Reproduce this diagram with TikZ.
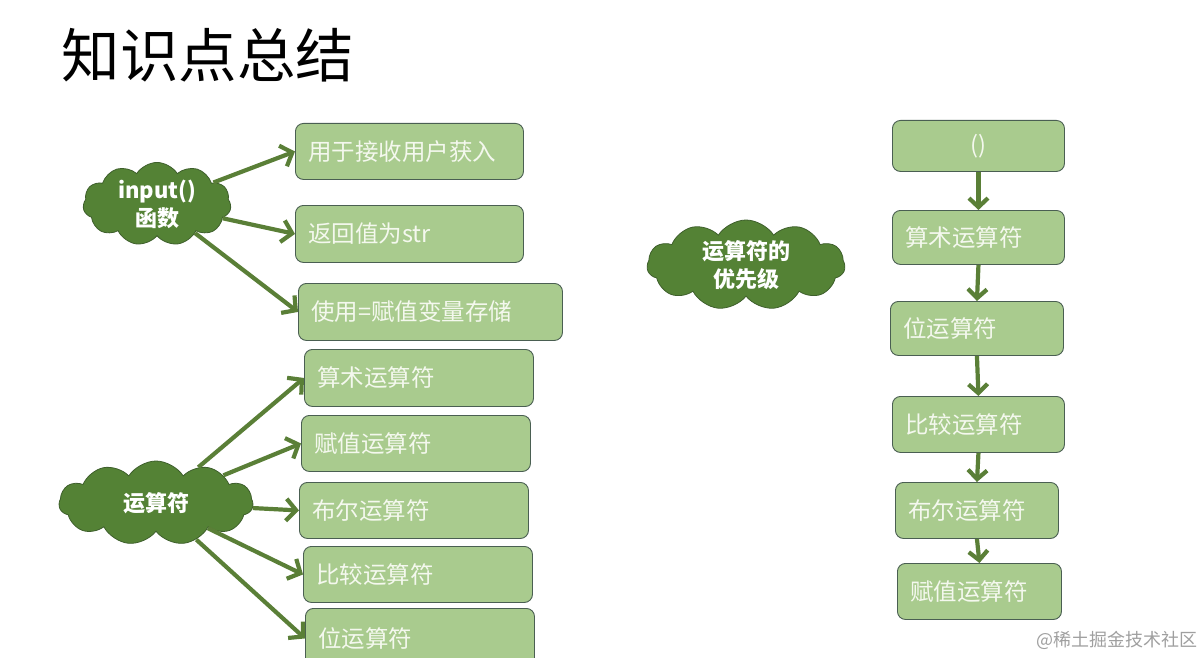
\documentclass[tikz,border=0pt]{standalone}
\usepackage{fontspec}
\setmainfont{Noto Sans CJK SC}
\usetikzlibrary{shapes.symbols,arrows.meta}
\definecolor{boxgreen}{HTML}{A9CB8E}
\definecolor{boxline}{HTML}{4A5F52}
\definecolor{boxtext}{HTML}{F4F8EE}
\definecolor{cloudgreen}{HTML}{548235}
\definecolor{cloudline}{HTML}{3E5F2C}
\definecolor{arrowgreen}{HTML}{5A7F37}

\tikzset{
  itembox/.style={draw=boxline, fill=boxgreen, rounded corners=8pt, line width=0.9pt,
    anchor=north west, text=boxtext, inner xsep=13pt,
    font=\fontsize{23.5}{25}\selectfont},
  topic/.style={cloud, cloud puffs=11, cloud puff arc=115, cloud ignores aspect,
    draw=cloudline, fill=cloudgreen, line width=0.8pt, text=white, align=center,
    inner sep=0pt, font=\bfseries\fontsize{22}{28}\selectfont},
  link/.style={arrowgreen, line width=4.2pt, -{Straight Barb[length=10pt,width=22pt]}},
  chain/.style={arrowgreen, line width=4.2pt, -{Straight Barb[length=9pt,width=19pt]}},
}

\begin{document}
\begin{tikzpicture}[x=1pt,y=-1pt]
  \useasboundingbox (0,0) rectangle (1204,658);

  % title
  \node[anchor=west,font=\fontsize{58.5}{60}\selectfont] (title) at (58,55) {知识点总结};

  % topics
  \node[topic,minimum width=148,minimum height=72] (cin) at (157,204) {input()\\函数};
  \node[topic,minimum width=194,minimum height=84] (cop) at (156,503) {运算符};
  \node[topic,minimum width=198,minimum height=90] (cpri) at (746,265) {运算符的\\优先级};

  % boxes: name, x, y, width, height, align, text
  \foreach \nm/\x/\y/\w/\h/\al/\txt in {%
    get/295/123/228/56/left/用于接收用户获入,
    ret/295/205/228/57/left/返回值为str,
    save/298/283/264/57/left/使用=赋值变量存储,
    ari/304/349/229/57/left/算术运算符,
    asg/301/415/229/56/left/赋值运算符,
    boo/299/482/229/56/left/布尔运算符,
    cmp/303/546/229/56/left/比较运算符,
    bit/305/608/229/60/left/位运算符,
    p0/892/120/172/51/center/(),
    p1/892/210/172/54/left/算术运算符,
    p2/890/301/173/54/left/位运算符,
    p3/892/396/172/56/left/比较运算符,
    p4/895/482/163/56/left/布尔运算符,
    p5/897/563/164/56/left/赋值运算符}{
      \pgfmathsetmacro{\tw}{\w-26}
      \node[itembox,text width=\tw pt,minimum height=\h,align=\al] (\nm) at (\x,\y) {\txt};
  }

  % input() links
  \foreach \to in {get,ret,save}
    \draw[link] (cin) -- (\to.west);
  % operator links
  \foreach \to in {ari,asg,boo,cmp,bit}
    \draw[link] (cop) -- (\to.west);
  % priority chain
  \draw[chain] (p0.south) -- (p1.north);
  \draw[chain] (p1.south) -- (p2.north);
  \draw[chain] (p2.south) -- (p3.north);
  \draw[chain] (p3.south) -- (p4.north);
  \draw[chain] (p4.south) -- (p5.north);

  % watermark
  \node[anchor=east,text=gray!75,font=\fontsize{18}{20}\selectfont] (mark) at (1201,640) {@稀土掘金技术社区};
\end{tikzpicture}
\end{document}
